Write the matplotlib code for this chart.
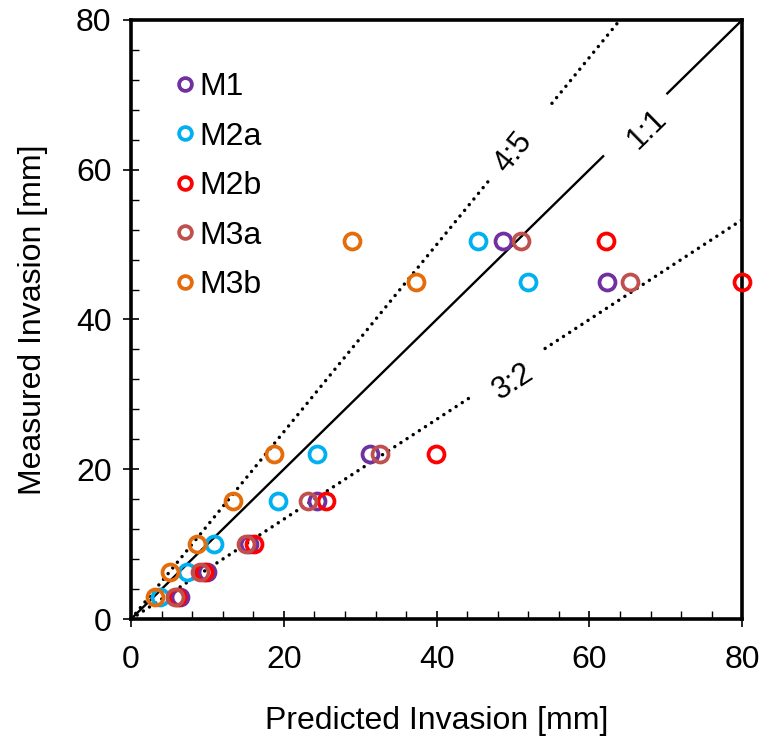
import numpy as np
import matplotlib.pyplot as plt

plt.rcParams['font.family'] = ['Liberation Sans', 'DejaVu Sans']

# measured invasion levels [mm] (same for all models)
measured = [3.0, 6.3, 10.0, 15.7, 22.0, 45.0, 50.5]

# predicted invasion [mm] per model
pred_m1 = [6.4, 10.0, 15.5, 24.3, 31.3, 62.3, 48.7]
pred_m2a = [3.8, 7.3, 10.9, 19.3, 24.3, 52.0, 45.4]
pred_m2b = [6.0, 9.5, 16.1, 25.5, 39.9, 80.0, 62.2]
pred_m3a = [5.8, 9.0, 15.1, 23.2, 32.6, 65.3, 51.0]
pred_m3b = [3.1, 5.1, 8.6, 13.4, 18.7, 37.3, 28.9]

labels = ['M1', 'M2a', 'M2b', 'M3a', 'M3b']
colors = ['#7030A0', '#00B0F0', '#FF0000', '#C0504D', '#E46C0A']

# reference lines: measured = ratio * predicted
ref_names = ['4:5', '1:1', '3:2']
ref_ratios = [5 / 4, 1.0, 2 / 3]

fig = plt.figure(figsize=(7.62, 7.40), dpi=100)
ax = fig.add_axes([0.172, 0.1635, 0.802, 0.8095])

# lines with a gap where the label sits
gaps = [(46.7, 55.1), (61.8, 70.2), (44.8, 54.2)]
styles = [dict(ls=(0, (0.01, 2.1)), lw=2.5, dash_capstyle='round'),
          dict(ls='-', lw=1.7),
          dict(ls=(0, (0.01, 2.1)), lw=2.5, dash_capstyle='round')]
label_pos = [(50.0, 62.3), (67.6, 65.4), (50.0, 31.7)]
label_rot = [51, 44.5, 33]
for name, r, g, st, p, rot in zip(ref_names, ref_ratios, gaps, styles, label_pos, label_rot):
    for x0, x1 in [(0, g[0]), (g[1], 80)]:
        xs = np.array([x0, x1])
        ax.plot(xs, r * xs, color='black', zorder=2, **st)
    ax.text(p[0], p[1], name, rotation=rot, rotation_mode='anchor',
            ha='center', va='center', fontsize=22)

all_pred = [pred_m1, pred_m2a, pred_m2b, pred_m3a, pred_m3b]
for xs, lab, c in zip(all_pred, labels, colors):
    ax.plot(xs, measured, 'o', ls='none', mfc='none', mec=c, mew=2.7, ms=11.5,
            label=lab, zorder=3, clip_on=False)

ax.set_xlim(0, 80)
ax.set_ylim(0, 80)
ax.set_xticks([0, 20, 40, 60, 80])
ax.set_yticks([0, 20, 40, 60, 80])
ax.set_xticks(np.arange(0, 81, 4), minor=True)
ax.set_yticks(np.arange(0, 81, 4), minor=True)
ax.tick_params(which='major', direction='inout', length=12, width=1.2, labelsize=23)
ax.tick_params(axis='x', which='major', pad=13)
ax.tick_params(axis='y', which='major', pad=8)
ax.tick_params(which='minor', direction='in', length=6, width=1.0)
for s in ax.spines.values():
    s.set_linewidth(2.6)

ax.set_xlabel('Predicted Invasion [mm]', fontsize=23, labelpad=22)
ax.set_ylabel('Measured Invasion [mm]', fontsize=23, labelpad=20)

ax.legend(loc='upper left', bbox_to_anchor=(0.070, 0.913), frameon=False,
          fontsize=23, handlelength=0.7, handletextpad=0.1, labelspacing=0.61,
          borderpad=0, borderaxespad=0, markerscale=0.8)

fig.savefig('out.png', dpi=100)
